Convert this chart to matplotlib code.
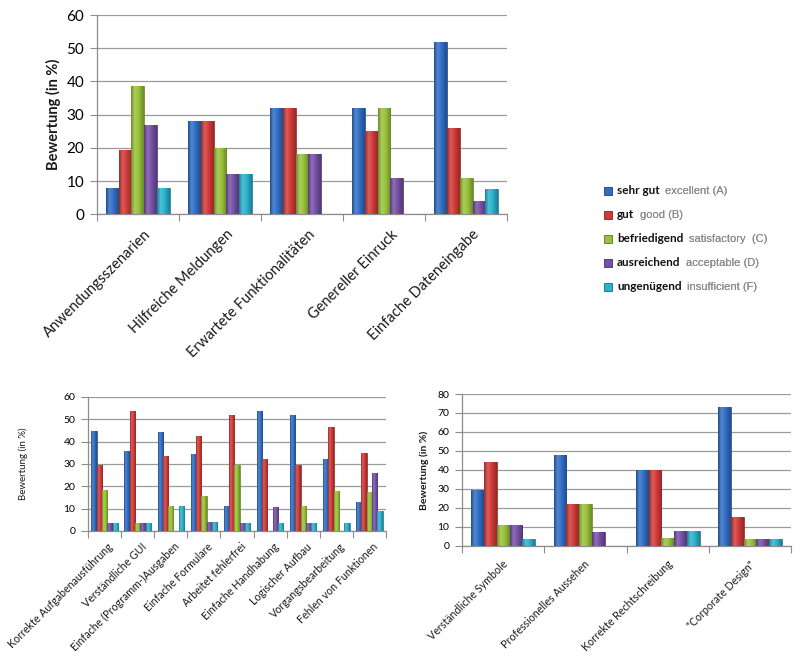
import numpy as np
import matplotlib
matplotlib.use("Agg")
import matplotlib.pyplot as plt
from matplotlib.colors import LinearSegmentedColormap, to_rgb

plt.rcParams['font.family'] = ['Lato', 'DejaVu Sans']

# ---------------- data ----------------
series_de = ["sehr gut", "gut", "befriedigend", "ausreichend", "ungenügend"]
series_en = ["excellent (A)", "good (B)", "satisfactory  (C)", "acceptable (D)", "insufficient (F)"]
colors = ["#2F6DC4", "#D23A38", "#98C23A", "#7650A6", "#2AB3CF"]

cats_top = ["Anwendungsszenarien", "Hilfreiche Meldungen", "Erwartete Funktionalitäten",
            "Genereller Einruck", "Einfache Dateneingabe"]
top_A = [8, 28, 32, 32, 52]
top_B = [19.3, 28, 32, 25, 26]
top_C = [38.5, 20, 18, 32, 11]
top_D = [27, 12, 18, 11, 4]
top_F = [8, 12, 0, 0, 7.5]

cats_bl = ["Korrekte Aufgabenausführung", "Verständliche GUI", "Einfache (Programm-)Ausgaben",
           "Einfache Formulare", "Arbeitet fehlerfrei", "Einfache Handhabung",
           "Logischer Aufbau", "Vorgangsbearbeitung", "Fehlen von Funktionen"]
bl_A = [44.5, 35.7, 44.4, 34.6, 11.1, 53.6, 51.9, 32.1, 13.0]
bl_B = [29.6, 53.6, 33.3, 42.3, 51.9, 32.1, 29.6, 46.4, 34.8]
bl_C = [18.5, 3.6, 11.1, 15.4, 29.6, 0, 11.1, 17.9, 17.4]
bl_D = [3.7, 3.6, 0, 3.8, 3.7, 10.7, 3.7, 0, 26.1]
bl_F = [3.7, 3.6, 11.1, 3.8, 3.7, 3.6, 3.7, 3.6, 8.7]

cats_br = ["Verständliche Symbole", "Professionelles Aussehen",
           "Korrekte Rechtschreibung", "\"Corporate Design\""]
br_A = [29.6, 48.1, 40, 73.1]
br_B = [44.4, 22.2, 40, 15.4]
br_C = [11.1, 22.2, 4, 3.8]
br_D = [11.1, 7.4, 8, 3.8]
br_F = [3.7, 0, 8, 3.8]

# ---------------- helpers ----------------
def shade(c, f):
    r, g, b = to_rgb(c)
    if f < 1:
        return (r * f, g * f, b * f)
    f = f - 1
    return (r + (1 - r) * f, g + (1 - g) * f, b + (1 - b) * f)

def glossy_cmap(c):
    return LinearSegmentedColormap.from_list(
        "g", [(0, shade(c, 0.72)), (0.28, shade(c, 1.18)), (0.6, shade(c, 1.0)), (1, shade(c, 0.7))])

grad = np.linspace(0, 1, 64).reshape(1, -1)

def grouped(ax, cats, data, ymax, ystep, tick_fs, label_fs, ylabel_fs, ylabel_bold, width, lab_off):
    n = len(data)
    x = np.arange(len(cats))
    for i, (vals, col) in enumerate(zip(data, colors)):
        offs = (i - (n - 1) / 2) * width
        bars = ax.bar(x + offs, vals, width=width, color=col, edgecolor=shade(col, 0.65),
                      linewidth=0.5, zorder=3)
        cm = glossy_cmap(col)
        for b in bars:
            h = b.get_height()
            if h <= 0:
                continue
            x0, y0, w = b.get_x(), b.get_y(), b.get_width()
            im = ax.imshow(grad, cmap=cm, aspect='auto', extent=(x0, x0 + w, y0, y0 + h),
                           zorder=3.5, interpolation='bilinear')
            im.set_clip_path(b)
    ax.set_xlim(-0.5, len(cats) - 0.5)
    ax.set_ylim(0, ymax)
    ax.set_yticks(np.arange(0, ymax + 0.1, ystep))
    ax.yaxis.grid(True, color="#9a9a9a", linewidth=0.9, zorder=0)
    ax.set_axisbelow(True)
    for s in ["top", "right"]:
        ax.spines[s].set_visible(False)
    for s in ["left", "bottom"]:
        ax.spines[s].set_color("#8c8c8c")
        ax.spines[s].set_linewidth(0.9)
    ax.set_xticks(np.arange(len(cats) + 1) - 0.5)
    ax.set_xticklabels([])
    ax.tick_params(axis='x', length=5, color="#8c8c8c", direction='out')
    ax.tick_params(axis='y', length=5, color="#8c8c8c", labelsize=tick_fs, pad=4)
    for i, c in enumerate(cats):
        ax.annotate(c, xy=(i, 0), xycoords=('data', 'axes fraction'),
                    xytext=lab_off, textcoords='offset points',
                    rotation=45, rotation_mode='anchor', ha='right', va='center',
                    fontsize=label_fs, color="#1a1a1a")
    ax.set_ylabel("Bewertung (in %)", fontsize=ylabel_fs,
                  fontweight='bold' if ylabel_bold else 'normal', color="#1a1a1a")

fig = plt.figure(figsize=(8, 6.57), dpi=100)

ax1 = fig.add_axes([0.121, 0.674, 0.513, 0.303])
grouped(ax1, cats_top, [top_A, top_B, top_C, top_D, top_F], 60, 10, 11, 10.5, 10.5, True, 0.156,
        (8, -13))
ax1.yaxis.labelpad = 4

ax2 = fig.add_axes([0.110, 0.192, 0.3725, 0.204])
grouped(ax2, cats_bl, [bl_A, bl_B, bl_C, bl_D, bl_F], 60, 10, 7.5, 7.7, 7, False, 0.16,
        (5, -10))
ax2.yaxis.labelpad = 26

ax3 = fig.add_axes([0.5775, 0.169, 0.4115, 0.2313])
grouped(ax3, cats_br, [br_A, br_B, br_C, br_D, br_F], 80, 10, 7.5, 7.7, 7.5, True, 0.155,
        (2, -12))
ax3.yaxis.labelpad = 6

# ---------------- legend ----------------
ly0 = 1 - 190.5 / 657
dy = 24.0 / 657
for i, (de, en, col) in enumerate(zip(series_de, series_en, colors)):
    y = ly0 - i * dy
    fig.patches.append(plt.Rectangle((604 / 800, y - 4 / 657), 8 / 800, 8 / 657,
                                     transform=fig.transFigure, facecolor=col,
                                     edgecolor=shade(col, 0.6), linewidth=0.6))
    t = fig.text(617 / 800, y, de, fontsize=8.5, fontweight='bold', va='center',
                 ha='left', color="#111111")
    a = plt.annotate(en, xy=(1, 0.5), xycoords=t, xytext=(4, 0), textcoords='offset points',
                     va='center', ha='left', fontsize=8, color="#8a8a8a",
                     family='Liberation Sans', annotation_clip=False)
    fig.texts.append(a)

fig.savefig("out.png", dpi=100)
